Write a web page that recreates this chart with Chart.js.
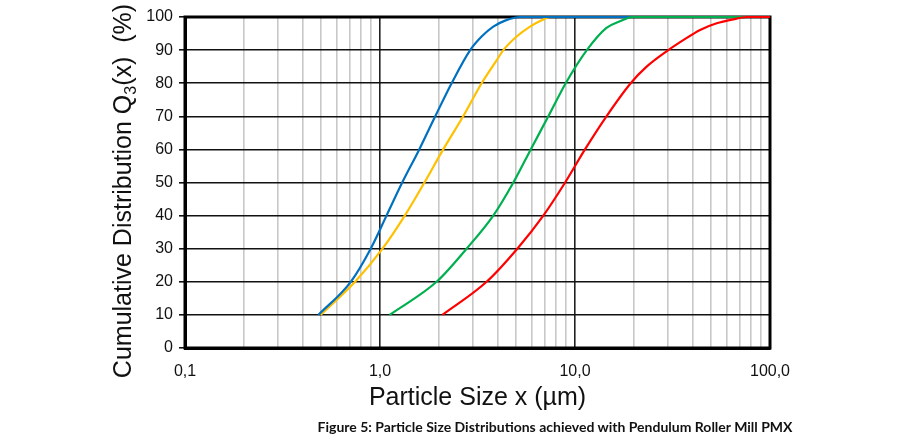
<!DOCTYPE html>
<html>
<head>
<meta charset="utf-8">
<script src="https://cdn.jsdelivr.net/npm/chart.js@4/dist/chart.umd.min.js"></script>
<style>
  html, body { margin: 0; padding: 0; background: #fff; }
  #wrap { position: relative; width: 898px; height: 440px; }
  #caption {
    position: absolute; left: 555px; top: 418px; transform: translateX(-50%);
    white-space: nowrap; font: bold 14px Lato, "Noto Sans", sans-serif; color: #111;
  }
</style>
</head>
<body>
<div id="wrap">
  <canvas id="psd"></canvas>
  <div id="caption">Figure 5: Particle Size Distributions achieved with Pendulum Roller Mill PMX</div>
</div>
<script>
// blue curve: Q3 (%) against particle size x (µm)
const blueQ3    = [10, 20, 30, 40, 50, 60, 70, 80, 90, 94.1, 97.1, 98.9, 100, 100];
const blueSizes = [0.483, 0.708, 0.896, 1.08, 1.30, 1.59, 1.92, 2.33, 2.90, 3.32, 3.81, 4.38, 5.22, 100];
// yellow
const yellowQ3    = [10, 20, 30, 40, 50, 60, 70, 80, 87, 90, 94.1, 97.1, 99, 100, 100];
const yellowSizes = [0.496, 0.745, 1.03, 1.34, 1.69, 2.11, 2.67, 3.32, 3.97, 4.29, 5.02, 5.88, 6.75, 7.45, 100];
// green
const greenQ3    = [10, 20, 30, 40, 50, 60, 70, 80, 90, 96.7, 98.7, 100, 100];
const greenSizes = [1.12, 1.95, 2.78, 3.81, 4.83, 5.93, 7.30, 8.96, 11.5, 14.5, 17.0, 19.8, 100];
// red
const redQ3    = [10, 20, 30, 40, 50, 60, 70, 80, 85, 90, 93, 96.1, 98.1, 99.3, 100, 100];
const redSizes = [2.09, 3.52, 5.06, 6.88, 8.9, 11.25, 14.5, 19.3, 23.3, 30.1, 35.9, 43.8, 53.3, 64.8, 76, 100];

const xTickLabels = ['0,1', '1,0', '10,0', '100,0'];

const pts = (xs, ys) => xs.map((x, i) => ({ x: x, y: ys[i] }));

const isMajor = v => v != null && Math.abs(Math.log10(v) - Math.round(Math.log10(v))) < 1e-9;

const series = [
  { data: pts(redSizes, redQ3), color: '#FF0000' },
  { data: pts(greenSizes, greenQ3), color: '#00B050' },
  { data: pts(blueSizes, blueQ3), color: '#0070C0' },
  { data: pts(yellowSizes, yellowQ3), color: '#FFC000' },
];

const frame = {
  id: 'frame',
  beforeDatasetsDraw(chart) {
    const { ctx, chartArea: a } = chart;
    ctx.save();
    ctx.strokeStyle = '#000';
    ctx.lineWidth = 3;
    ctx.strokeRect(a.left, a.top, a.right - a.left, a.bottom - a.top);
    ctx.restore();
  }
};

// y title drawn by hand so the 3 can be a real subscript
const yTitle = {
  id: 'yTitle',
  afterDraw(chart) {
    const ctx = chart.ctx;
    const big = '25px "Liberation Sans", Arial, sans-serif';
    const small = '16px "Liberation Sans", Arial, sans-serif';
    const p1 = 'Cumulative Distribution Q', p2 = '3', p3 = '(x)  (%)';
    ctx.save();
    ctx.font = big;
    const w1 = ctx.measureText(p1).width, w3 = ctx.measureText(p3).width;
    ctx.font = small;
    const w2 = ctx.measureText(p2).width;
    const total = w1 + w2 + w3;
    ctx.translate(122, 191);
    ctx.rotate(-Math.PI / 2);
    ctx.fillStyle = '#111';
    ctx.textBaseline = 'alphabetic';
    let x = -total / 2;
    ctx.font = big;
    ctx.fillText(p1, x, 9); x += w1;
    ctx.font = small;
    ctx.fillText(p2, x, 14); x += w2;
    ctx.font = big;
    ctx.fillText(p3, x, 9);
    ctx.restore();
  }
};

new Chart(document.getElementById('psd'), {
  type: 'line',
  data: {
    datasets: series.map(s => ({
      data: s.data,
      borderColor: s.color,
      backgroundColor: s.color,
      borderWidth: 2.2,
      pointRadius: 0,
      cubicInterpolationMode: 'monotone',
      clip: false
    }))
  },
  options: {
    responsive: true,
    maintainAspectRatio: false,
    animation: false,
    layout: { padding: { left: 106, right: 128, top: 17, bottom: 27 } },
    plugins: { legend: { display: false }, tooltip: { enabled: false } },
    scales: {
      x: {
        type: 'logarithmic',
        min: 0.1,
        max: 100,
        afterBuildTicks(scale) {
          const t = [];
          [0.1, 1, 10].forEach(d => { for (let k = 1; k <= 9; k++) t.push({ value: +(d * k).toPrecision(3) }); });
          t.push({ value: 100 });
          scale.ticks = t;
        },
        afterFit(scale) { scale.height = 65; },
        ticks: {
          autoSkip: false,
          maxRotation: 0,
          padding: 14,
          color: '#111',
          font: { family: '"Liberation Sans", Arial, sans-serif', size: 16 },
          callback(v) {
            if (!isMajor(v)) return '';
            return xTickLabels[Math.round(Math.log10(v)) + 1];
          }
        },
        grid: {
          drawTicks: false,
          color: c => (c.tick && isMajor(c.tick.value)) ? '#222' : '#c8c8c8',
          lineWidth: 1.6
        },
        border: { display: true, color: '#000', width: 3 },
        title: {
          display: true,
          text: 'Particle Size x (µm)',
          color: '#111',
          font: { family: '"Liberation Sans", Arial, sans-serif', size: 25 },
          padding: 0
        }
      },
      y: {
        min: 0,
        max: 100,
        afterFit(scale) { scale.width = 79; },
        ticks: {
          stepSize: 10,
          padding: 6,
          color: '#111',
          font: { family: '"Liberation Sans", Arial, sans-serif', size: 16 }
        },
        grid: { color: '#111', lineWidth: 1.6, tickLength: 6 },
        border: { display: true, color: '#000', width: 3 }
      }
    }
  },
  plugins: [frame, yTitle]
});
</script>
</body>
</html>
